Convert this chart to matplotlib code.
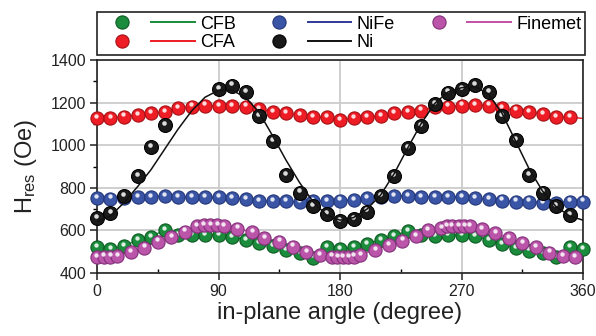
import matplotlib
matplotlib.use("Agg")
import matplotlib.pyplot as plt
from matplotlib.lines import Line2D
from matplotlib.legend_handler import HandlerTuple
import matplotlib.transforms as mtransforms

plt.rcParams['font.family'] = ['Liberation Sans', 'DejaVu Sans']

# ---------------- data ----------------
cfb_angle = [0, 10, 20, 30, 40, 50, 60, 70, 80, 90, 100, 110, 120, 130, 140, 150, 160, 170, 180,
             190, 200, 210, 220, 230, 240, 250, 260, 270, 280, 290, 300, 310, 320, 330, 340, 350, 360]
cfb_hres = [521, 511, 527, 555, 570, 602, 578, 578, 578, 578, 570, 555, 541, 526, 508, 492, 472, 522, 511,
            521, 536, 555, 573, 598, 578, 573, 578, 578, 573, 555, 536, 516, 505, 492, 474, 521, 511]

cfa_angle = [0, 10, 20, 30, 40, 50, 60, 70, 80, 90, 100, 110, 120, 130, 140, 150, 160, 170, 180,
             190, 200, 210, 220, 230, 240, 250, 260, 270, 280, 290, 300, 310, 320, 330, 340, 350]
cfa_hres = [1126, 1126, 1134, 1142, 1150, 1157, 1173, 1181, 1186, 1183, 1183, 1181, 1169, 1157, 1150, 1142, 1131, 1131, 1118,
            1126, 1131, 1137, 1150, 1157, 1162, 1178, 1181, 1186, 1189, 1186, 1173, 1162, 1157, 1145, 1131, 1131]
cfa_line_end_angle = 360
cfa_line_end_hres = 1126

nife_angle = cfb_angle
nife_hres = [751, 749, 753, 757, 757, 760, 755, 755, 755, 755, 751, 746, 737, 737, 737, 732, 737, 737, 740,
             743, 751, 758, 762, 762, 758, 758, 758, 755, 751, 746, 740, 735, 735, 730, 730, 735, 735]

ni_angle = [0, 10, 20, 30, 40, 50, 90, 100, 110, 120, 130, 140, 150, 160, 170, 180,
            190, 200, 210, 220, 230, 240, 250, 260, 270, 280, 290, 300, 310, 320, 330, 340, 350]
ni_hres = [657, 683, 762, 855, 990, 1093, 1262, 1280, 1251, 1137, 1020, 860, 777, 715, 675, 643,
           654, 688, 762, 855, 985, 1090, 1192, 1247, 1264, 1283, 1251, 1137, 1024, 860, 777, 715, 672]

ni_fit_angle = [0, 10, 20, 30, 40, 50, 60, 70, 80, 90, 100, 110, 120, 130, 140, 150, 160, 170, 180,
                190, 200, 210, 220, 230, 240, 250, 260, 270, 280, 290, 300, 310, 320, 330, 340, 350, 360]
ni_fit_hres = [640, 668, 730, 805, 885, 980, 1075, 1160, 1225, 1258, 1258, 1225, 1155, 1045, 930, 825, 735, 672, 648,
               660, 700, 765, 865, 985, 1100, 1195, 1250, 1270, 1275, 1240, 1150, 1020, 890, 785, 712, 668, 648]

fin_angle = [0, 5, 10, 15, 25, 35, 45, 55, 65, 74, 79, 84, 89, 94, 104, 115, 124, 135, 145, 155, 165,
             174, 178, 182, 186, 190, 195, 206, 216, 226, 236, 245, 255, 259, 263, 268, 272, 276,
             285, 295, 305, 315, 325, 335, 345, 354]
fin_hres = [474, 477, 477, 480, 500, 519, 547, 570, 594, 620, 624, 624, 624, 620, 608, 592, 563, 547, 524, 500, 485,
            477, 474, 474, 474, 477, 485, 508, 531, 552, 572, 602, 610, 620, 620, 620, 620, 620,
            605, 586, 563, 542, 521, 496, 480, 474]

labels = ['CFB', 'CFA', 'NiFe', 'Ni', 'Finemet']
dot_colors = {'CFB': '#1a8c3c', 'CFA': '#ee1d25', 'NiFe': '#3b55a6', 'Ni': '#1a1a1a', 'Finemet': '#bb55aa'}
edge_colors = {'CFB': '#0d5a22', 'CFA': '#a50f14', 'NiFe': '#22367a', 'Ni': '#000000', 'Finemet': '#83307a'}
line_colors = {'CFB': '#1a8a3a', 'CFA': '#ed1c24', 'NiFe': '#2e3a96', 'Ni': '#111111', 'Finemet': '#c050a5'}

# ---------------- figure ----------------
fig = plt.figure(figsize=(5.96, 3.36), dpi=100)
ax = fig.add_axes([97 / 596, 1 - 273 / 336, 486 / 596, 213 / 336])

hl = mtransforms.offset_copy(ax.transData, fig=fig, x=-0.6, y=2.2, units='dots')


def balls(x, y, name, z, ms=9.5):
    ax.plot(x, y, 'o', ms=ms, mfc=dot_colors[name], mec=edge_colors[name], mew=0.8,
            zorder=z, linestyle='none', clip_on=False)
    ax.plot(x, y, 'o', ms=ms * 0.33, mfc='white', mec='none', alpha=0.85,
            zorder=z + 0.05, linestyle='none', transform=hl, clip_on=False)


# CFB
ax.plot(cfb_angle, cfb_hres, '-', color=line_colors['CFB'], lw=1.0, zorder=2)
balls(cfb_angle, cfb_hres, 'CFB', 3)
# CFA
ax.plot(cfa_angle + [cfa_line_end_angle], cfa_hres + [cfa_line_end_hres], '-', color=line_colors['CFA'], lw=1.0, zorder=2)
balls(cfa_angle, cfa_hres, 'CFA', 3.2)
# NiFe
ax.plot(nife_angle, nife_hres, '-', color=line_colors['NiFe'], lw=1.0, zorder=2)
balls(nife_angle, nife_hres, 'NiFe', 3.4)
# Finemet
ax.plot(fin_angle, fin_hres, '-', color=line_colors['Finemet'], lw=1.0, zorder=2)
balls(fin_angle, fin_hres, 'Finemet', 3.6)
# Ni
balls(ni_angle, ni_hres, 'Ni', 3.8, ms=10)
ax.plot(ni_fit_angle, ni_fit_hres, '-', color=line_colors['Ni'], lw=1.1, zorder=4)

# axes styling
ax.set_xlim(0, 360)
ax.set_ylim(400, 1400)
ax.set_xticks([0, 90, 180, 270, 360])
ax.set_xticks([45, 135, 225, 315], minor=True)
ax.set_yticks([400, 600, 800, 1000, 1200, 1400])
ax.set_yticks([500, 700, 900, 1100, 1300], minor=True)
ax.grid(True, which='major', color='#cccccc', lw=1.3, zorder=0)
ax.set_axisbelow(True)
for s in ax.spines.values():
    s.set_linewidth(1.2)
    s.set_color('#222222')
ax.tick_params(axis='both', which='major', direction='out', length=5, width=1.1, labelsize=11.5,
               colors='#222222', pad=3)
ax.tick_params(axis='x', which='minor', direction='in', length=3, width=1.0)
ax.tick_params(axis='y', which='minor', direction='out', length=3, width=1.0)

ax.set_xlabel('in-plane angle (degree)', fontsize=17, labelpad=2, color='#222222')
ax.set_ylabel(r'H$\mathregular{_{res}}$ (Oe)', fontsize=17, labelpad=8, color='#222222')

# legend
handles = []
for name in labels:
    m = Line2D([], [], marker='o', ls='none', ms=9.5, mfc=dot_colors[name], mec=edge_colors[name], mew=0.8)
    ln = Line2D([], [], color=line_colors[name], lw=1.4)
    handles.append((m, ln))
leg = ax.legend(handles, labels, handler_map={tuple: HandlerTuple(ndivide=None, pad=0.4)},
                ncol=3, loc='lower left', bbox_to_anchor=(0, 1.023, 1.004, 0.226), mode='expand',
                borderaxespad=0, fontsize=13, handlelength=5.2, handletextpad=0.3,
                frameon=True, fancybox=False, edgecolor='#222222', framealpha=1,
                borderpad=0.2, labelspacing=0.1, columnspacing=1.0)
leg.get_frame().set_linewidth(1.2)

fig.savefig('out.png', dpi=100)
